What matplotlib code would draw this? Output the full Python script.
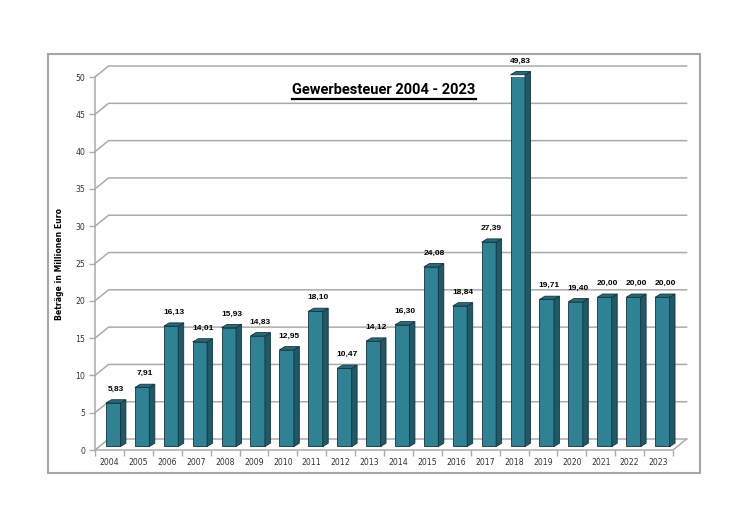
import numpy as np
import matplotlib.pyplot as plt
from matplotlib.patches import Polygon, Rectangle

years = [str(y) for y in range(2004, 2024)]
values = [5.83, 7.91, 16.13, 14.01, 15.93, 14.83, 12.95, 18.10, 10.47, 14.12,
          16.30, 24.08, 18.84, 27.39, 49.83, 19.71, 19.40, 20.00, 20.00, 20.00]
labels = [f"{v:.2f}".replace(".", ",") for v in values]
yticks = list(range(0, 55, 5))
title = "Gewerbesteuer 2004 - 2023"
ylabel = "Beträge in Millionen Euro"

FRONT = "#2F8194"
SIDE = "#1F5866"
TOP = "#256B7B"
EDGE = "#16343C"
GRID = "#ABABAB"

W, H = 750, 530
fig = plt.figure(figsize=(7.5, 5.3), dpi=100)
# front plane of the plot: x 95..673 px, y 450 (0) .. 77 (50)
ax = fig.add_axes([95 / W, 80 / H, (673 - 95) / W, (453 - 80) / H])
ax.set_xlim(-0.5, len(years) - 0.5)
ax.set_ylim(0, 50)

# depth of the back wall and of the bars, in data units
wall_dx, wall_dy = 0.47, 1.47
bar_shift, bar_lift = 0.13, 0.47
bar_w = 0.5
bar_dx, bar_dy = 0.19, 0.44

x0, x1 = -0.5, len(years) - 0.5
for t in yticks:
    ax.plot([x0, x0 + wall_dx, x1 + wall_dx], [t, t + wall_dy, t + wall_dy],
            color=GRID, lw=1.1, clip_on=False, zorder=1)
# floor
ax.plot([x0, x1, x1 + wall_dx], [0, 0, wall_dy], color=GRID, lw=1.1,
        clip_on=False, zorder=1)

x = np.arange(len(years)) + bar_shift
ax.bar(x, values, width=bar_w, bottom=bar_lift, color=FRONT, edgecolor=EDGE,
       linewidth=0.6, zorder=3)
for xi, v, lab in zip(x, values, labels):
    r = xi + bar_w / 2
    l = xi - bar_w / 2
    top = v + bar_lift
    side = Polygon([(r, bar_lift), (r + bar_dx, bar_lift + bar_dy),
                    (r + bar_dx, top + bar_dy), (r, top)],
                   closed=True, fc=SIDE, ec=EDGE, lw=0.6, zorder=3, clip_on=False)
    lid = Polygon([(l, top), (l + bar_dx, top + bar_dy),
                   (r + bar_dx, top + bar_dy), (r, top)],
                  closed=True, fc=TOP, ec=EDGE, lw=0.6, zorder=3, clip_on=False)
    ax.add_patch(side)
    ax.add_patch(lid)
    ax.annotate(lab, (xi + bar_dx / 2, top + bar_dy), xytext=(0, 5),
                textcoords="offset points", ha="center", va="bottom",
                fontsize=6, fontweight="bold", family="Liberation Sans",
                annotation_clip=False, zorder=5)

for s in ["top", "right"]:
    ax.spines[s].set_visible(False)
ax.spines["left"].set_color(GRID)
ax.spines["bottom"].set_visible(False)
ax.spines["left"].set_linewidth(1.1)
ax.set_yticks(yticks)
ax.set_xticks(np.arange(-0.5, len(years), 1), minor=False)
ax.set_xticklabels([])
ax.set_xticks(np.arange(len(years)), minor=True)
ax.set_xticklabels(years, minor=True)
ax.tick_params(axis="x", which="major", length=4, color=GRID, width=1)
ax.tick_params(axis="x", which="minor", length=0, pad=6, labelsize=5.6,
               labelcolor="#333333")
ax.tick_params(axis="y", length=4, color=GRID, width=1, labelsize=5.6,
               labelcolor="#333333", pad=3)
ax.patch.set_alpha(0)
ax.set_ylabel(ylabel, fontsize=5.6, fontweight="bold", labelpad=8)

t = fig.text(384 / W, 1 - 90 / H, title, ha="center", va="center",
             fontsize=10.5, fontweight="bold", family=["Roboto", "DejaVu Sans"])
fig.canvas.draw()
bb = t.get_window_extent()
uy = bb.y0 - 1.5
fig.add_artist(plt.Line2D([bb.x0 / W, bb.x1 / W], [uy / H, uy / H],
                          color="black", lw=1.6, transform=fig.transFigure))

fig.add_artist(Rectangle((48 / W, 1 - 473 / H), (700 - 48) / W, (473 - 54) / H,
                         transform=fig.transFigure, fill=False, ec="#A6A6A6",
                         lw=1.5))

fig.savefig("out.png", dpi=100, facecolor="white")
